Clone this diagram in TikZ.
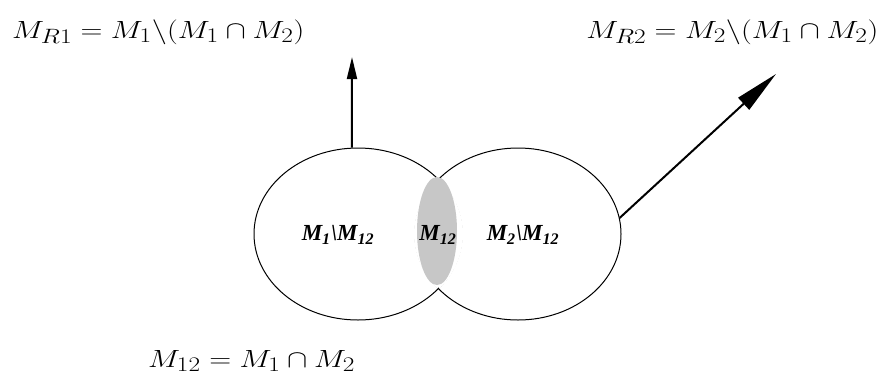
\documentclass[tikz,border=0pt]{standalone}
\usepackage{fontspec}
\setmainfont{Liberation Serif}
\usetikzlibrary{shapes.geometric,arrows.meta}
\begin{document}
\begin{tikzpicture}[x=1pt,y=-1pt,
  setshape/.style={draw,ellipse,line width=1pt,inner sep=0pt},
  lens/.style={ellipse,fill=black!22,inner sep=0pt,minimum width=40pt,minimum height=108pt},
  inlabel/.style={font=\fontsize{23}{24}\selectfont\bfseries\itshape,inner sep=0pt},
  formula/.style={font=\fontsize{31}{32}\selectfont,inner sep=0pt,anchor=base west,xscale=1.22},
  arr/.style={line width=2pt}]
\useasboundingbox (0,0) rectangle (882,378);
\node[setshape,minimum width=208pt,minimum height=172pt] (L) at (358,234) {};
\node[setshape,minimum width=206pt,minimum height=172pt] (R) at (518,234) {};
% hide the inner arcs of the overlap
\begin{scope}
  \clip (358,234) ellipse [x radius=105pt,y radius=87pt];
  \fill[white] (518,234) ellipse [x radius=102pt,y radius=85pt];
\end{scope}
\begin{scope}
  \clip (518,234) ellipse [x radius=104pt,y radius=87pt];
  \fill[white] (358,234) ellipse [x radius=103pt,y radius=85pt];
\end{scope}
\node[lens] (C) at (437,231) {};
\node[inlabel] (l1) at (338,235) {M\textsubscript{1}\textbackslash M\textsubscript{12}};
\node[inlabel] (l2) at (438,235) {M\textsubscript{12}};
\node[inlabel] (l3) at (523,235) {M\textsubscript{2}\textbackslash M\textsubscript{12}};
\node[formula] (f1) at (12,38) {$M_{R1} = M_1\backslash(M_1\cap M_2)$};
\node[formula] (f2) at (586,38) {$M_{R2} = M_2\backslash(M_1\cap M_2)$};
\node[formula] (f3) at (148,367) {$M_{12} = M_1\cap M_2$};
\coordinate (t1) at (352,57);
\coordinate (t2) at (776,74);
\draw[arr,-{Triangle[length=22pt,width=10pt]}] (L.94) -- (t1);
\draw[arr,-{Triangle[length=44pt,width=16pt]}] (R.9.6) -- (t2);
\end{tikzpicture}
\end{document}
